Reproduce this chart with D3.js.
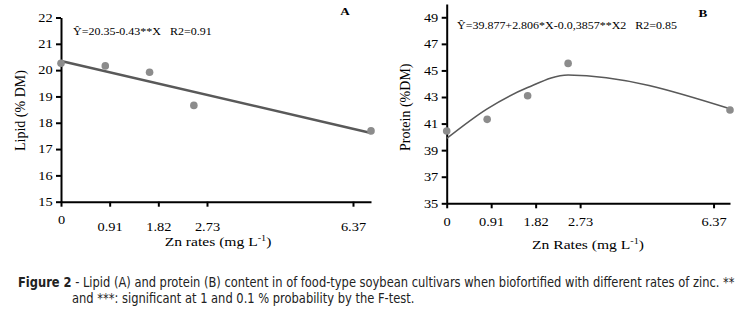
<!DOCTYPE html>
<html>
<head>
<meta charset="utf-8">
<script src="https://cdn.jsdelivr.net/npm/d3@7"></script>
<style>
  html, body { margin: 0; padding: 0; background: #fff; }
  svg { display: block; }
</style>
</head>
<body>
<svg id="chart" width="746" height="309"></svg>
<script>
// ---------------- data ----------------
const znRates = [0, 0.91, 1.82, 2.73, 6.37];
const lipid = [20.26, 20.16, 19.92, 18.66, 17.69];
const lipidFitX = [0, 6.37];
const lipidFit = [20.35, 17.61];
const protein = [40.44, 41.32, 43.1, 45.53, 42.02];
const proteinFit = [39.88, 42.11, 43.71, 44.66, 42.11];
const xTickValues = [0, 1, 2, 3, 6];
const xTickLabels = ["0", "0.91", "1.82", "2.73", "6.37"];
const lipidTicks = [15, 16, 17, 18, 19, 20, 21, 22];
const proteinTicks = [35, 37, 39, 41, 43, 45, 47, 49];
const eqA = "Ŷ=20.35-0.43**X\u00A0\u00A0\u00A0R2=0.91";
const eqB = "Ŷ=39.877+2.806*X-0.0,3857**X2\u00A0\u00A0\u00A0R2=0.85";
const captionBold = "Figure 2";
const captionLine1 = " - Lipid (A) and protein (B) content in of food-type soybean cultivars when biofortified with different rates of zinc. **";
const captionLine2 = "and ***: significant at 1 and 0.1 % probability by the F-test.";

// ---------------- setup ----------------
const svg = d3.select("#chart");
const SERIF = "'Liberation Serif', 'Times New Roman', serif";
const SX = 1.2; // horizontal stretch of the original image text
const lineCol = "#595959";
const ptCol = "#8c8c8c";

function stretchedText(g, x, y, str, size, anchor, weight) {
  return g.append("text")
    .attr("transform", `translate(${x},${y}) scale(${SX},1)`)
    .attr("font-family", SERIF)
    .attr("font-size", size)
    .attr("font-weight", weight || "normal")
    .attr("text-anchor", anchor || "start")
    .attr("fill", "#000")
    .text(str);
}

function drawPanel(cfg) {
  const g = svg.append("g");
  const x = d3.scaleLinear().domain([0, 6.37]).range(cfg.xRange);
  const y = d3.scaleLinear().domain(cfg.yDomain).range(cfg.yRange);

  // y axis
  const ya = g.append("g")
    .attr("transform", `translate(${cfg.xRange[0]},0)`)
    .call(d3.axisLeft(y).tickValues(cfg.yTicks).tickSize(5).tickSizeOuter(0).tickPadding(3)
      .tickFormat(d3.format("d")));
  ya.select(".domain").attr("stroke", "#000").attr("stroke-width", 2);
  ya.selectAll(".tick line").attr("stroke", "#000").attr("stroke-width", 2);
  ya.selectAll(".tick text")
    .attr("font-family", SERIF).attr("font-size", 12).attr("fill", "#000")
    .attr("transform", `scale(${SX},1)`).attr("x", -7);

  // x axis
  const xa = g.append("g")
    .attr("transform", `translate(0,${cfg.yRange[0]})`)
    .call(d3.axisBottom(x).tickValues(xTickValues).tickSize(5).tickSizeOuter(0)
      .tickFormat((d, i) => xTickLabels[i]));
  xa.select(".domain").attr("stroke", "#000").attr("stroke-width", 2);
  xa.selectAll(".tick line").attr("stroke", "#000").attr("stroke-width", 2);
  xa.selectAll(".tick text")
    .attr("font-family", SERIF).attr("font-size", 12).attr("fill", "#000")
    .attr("transform", `scale(${SX},1)`)
    .attr("y", (d, i) => (i === 0 ? cfg.zeroLabelY : cfg.labelY)).attr("dy", "0.32em");

  // fitted line / curve
  g.append("path")
    .datum(cfg.fitX.map((v, i) => [v, cfg.fit[i]]))
    .attr("fill", "none")
    .attr("stroke", lineCol)
    .attr("stroke-width", cfg.fitWidth)
    .attr("d", d3.line().x(d => x(d[0])).y(d => y(d[1])).curve(cfg.curve));

  // points
  g.selectAll("circle.pt")
    .data(znRates.map((v, i) => [v, cfg.values[i]]))
    .join("circle")
    .attr("class", "pt")
    .attr("cx", d => x(d[0]))
    .attr("cy", d => y(d[1]))
    .attr("r", 3.8)
    .attr("fill", ptCol);

  // equation, panel letter
  stretchedText(g, cfg.eqPos[0], cfg.eqPos[1], cfg.eq, 10, "start");
  stretchedText(g, cfg.letterPos[0], cfg.letterPos[1], cfg.letter, 11, "middle", "bold");

  // axis titles
  const xt = stretchedText(g, cfg.xTitlePos[0], cfg.xTitlePos[1], "", 13, "middle");
  xt.append("tspan").text(cfg.xTitle + " (mg L");
  xt.append("tspan").attr("dy", -5).attr("font-size", 8.5).text("-1");
  xt.append("tspan").attr("dy", 5).text(")");

  g.append("text")
    .attr("transform", `translate(${cfg.yTitlePos[0]},${cfg.yTitlePos[1]}) rotate(-90)`)
    .attr("font-family", SERIF).attr("font-size", 14).attr("fill", "#000")
    .attr("text-anchor", "start")
    .text(cfg.yTitle);
}

drawPanel({
  xRange: [61, 371], yDomain: [15, 22], yRange: [201.7, 17.5],
  yTicks: lipidTicks, values: lipid,
  fitX: lipidFitX, fit: lipidFit, curve: d3.curveLinear, fitWidth: 2.5,
  labelY: 25.5, zeroLabelY: 18.5,
  eq: eqA, eqPos: [73, 35], letter: "A", letterPos: [345, 15],
  xTitle: "Zn rates", xTitlePos: [218, 246],
  yTitle: "Lipid (% DM)", yTitlePos: [24.5, 151]
});

drawPanel({
  xRange: [446.7, 730], yDomain: [35, 50], yRange: [203.3, 4],
  yTicks: proteinTicks, values: protein,
  fitX: znRates, fit: proteinFit, curve: d3.curveMonotoneX, fitWidth: 1.6,
  labelY: 19, zeroLabelY: 19,
  eq: eqB, eqPos: [457, 29], letter: "B", letterPos: [703, 16.5],
  xTitle: "Zn Rates", xTitlePos: [588, 249],
  yTitle: "Protein (%DM)", yTitlePos: [410, 151]
});

// ---------------- caption ----------------
const CAP = "'Liberation Sans Narrow', 'DejaVu Sans Condensed', 'Liberation Sans', sans-serif";
function fitCaption(x, y, width, build) {
  const t = svg.append("text")
    .attr("x", 0).attr("y", 0)
    .attr("font-family", CAP).attr("font-size", 13.5).attr("fill", "#222");
  build(t);
  const natural = t.node().getComputedTextLength();
  t.attr("transform", `translate(${x},${y}) scale(${width / natural},1)`);
  return t;
}
fitCaption(18, 287, 717, t => {
  t.append("tspan").attr("font-weight", "bold").text(captionBold);
  t.append("tspan").text(captionLine1);
});
fitCaption(72, 303, 343, t => t.text(captionLine2));
</script>
</body>
</html>
